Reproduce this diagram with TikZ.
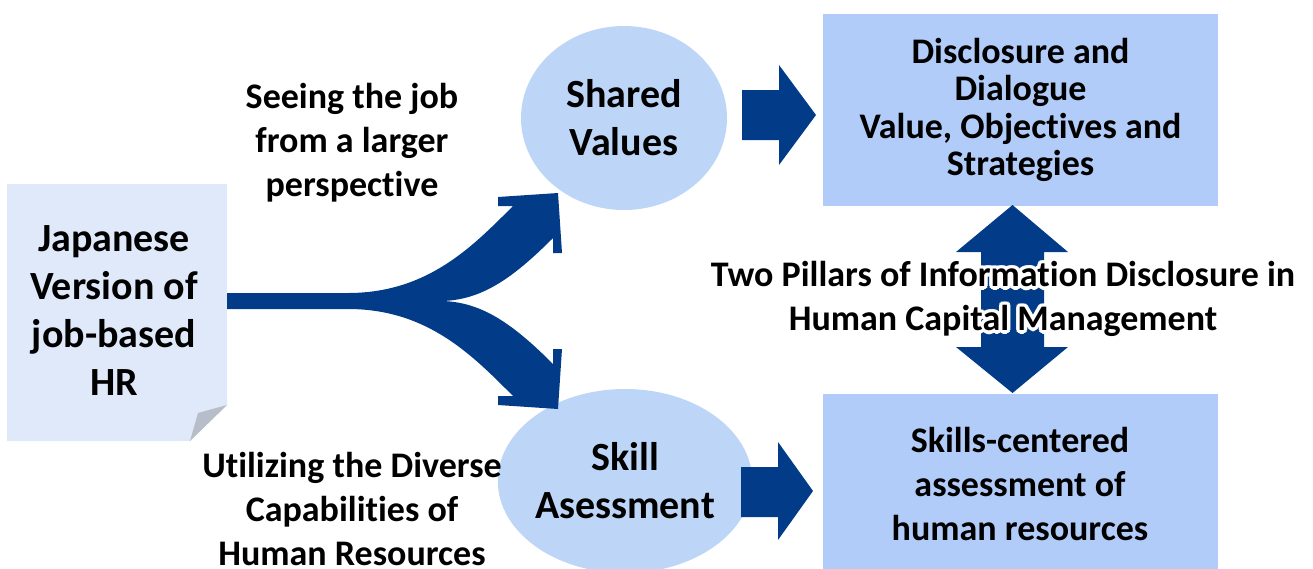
\documentclass[tikz,border=0pt]{standalone}
\usepackage{fontspec}
\setmainfont{Carlito}[Ligatures=NoCommon]
\usetikzlibrary{shapes.geometric,calc}
\definecolor{navy}{HTML}{023C88}
\definecolor{circfill}{HTML}{BDD5F7}
\definecolor{boxfill}{HTML}{B1CCF8}
\definecolor{notefill}{HTML}{DFE9FA}
\definecolor{foldfill}{HTML}{B8BEC9}
\tikzset{
  txt/.style={inner sep=0pt, align=center, font=\bfseries\fontsize{36}{44}\selectfont},
  bigtxt/.style={inner sep=0pt, align=center, font=\bfseries\fontsize{40}{48}\selectfont},
  bubble/.style={ellipse, fill=circfill, draw=none, minimum width=206pt, minimum height=184pt, inner sep=0pt, align=center, font=\bfseries\fontsize{40}{48}\selectfont},
  panel/.style={rectangle, fill=boxfill, draw=none, minimum width=395pt, inner sep=0pt, align=center, font=\bfseries\fontsize{36}{44}\selectfont},
  blockarrow/.style={fill=navy, draw=none}
}
\begin{document}
\begin{tikzpicture}[x=1pt,y=-1pt]
\useasboundingbox (0,0) rectangle (1313,568);
\clip (0,0) rectangle (1313,568);

% left note
\fill[notefill] (7,184) -- (227,184) -- (227,405) -- (190,441) -- (7,441) -- cycle;
\fill[foldfill] (227,405) -- (190,441) -- (198,413) -- cycle;
\node[bigtxt] (note) at (114,311) {Japanese\\Version of\\job-based\\HR};

% circles
\node[bubble] (shared) at (624,118) {Shared\\Values};
\node[bubble] (skill) at (625,481) {Skill\\Asessment};

% boxes
\node[panel, minimum height=192pt, font=\bfseries\fontsize{36}{37.5}\selectfont] (disc) at (1020.5,110) {Disclosure and\\Dialogue\\Value, Objectives and\\Strategies};
\node[panel, minimum height=181pt] (skillbox) at (1020.5,484.5) {};
\node[txt] (skilltext) at (1020,484) {Skills-centered\\assessment of\\human resources};

% fork arrow
\fill[blockarrow] (227,293) -- (348,293)
  .. controls (428,293) and (473,246) .. (513,206)
  -- (498,206) -- (498,197) -- (558,193) -- (562,253) -- (553,253) -- (553,238)
  .. controls (513,278) and (482,300) .. (442,301)
  .. controls (482,302) and (513,324) .. (553,364)
  -- (553,349) -- (562,349) -- (558,409) -- (498,405) -- (498,396) -- (513,396)
  .. controls (473,356) and (428,309) .. (348,309)
  -- (227,309) -- cycle;

% right arrows
\fill[blockarrow] (742,90) -- (779,90) -- (779,65) -- (816,115) -- (779,165) -- (779,140) -- (742,140) -- cycle;
\fill[blockarrow] (741,467) -- (778,467) -- (778,442) -- (813,491) -- (778,540) -- (778,517) -- (741,517) -- cycle;

% double arrow
\fill[blockarrow] (1012.5,205) -- (1068,252) -- (1044,252) -- (1044,347) -- (1068,347) -- (1012.5,393) -- (956,347) -- (981,347) -- (981,252) -- (956,252) -- cycle;

% labels
\node[txt] (seeing) at (352,143) {Seeing the job\\from a larger\\perspective};
\node[txt] (utilizing) at (352,509) {Utilizing the Diverse\\Capabilities of\\Human Resources};

% white halo for pillars text
\foreach \a in {0,30,...,330} {
  \node[txt, text=white] (haloa\a) at ($(1003,299)+(\a:3.5)$) {Two Pillars of Information Disclosure in\\Human Capital Management};
  \node[txt, text=white] (halob\a) at ($(1003,299)+(\a+15:1.8)$) {Two Pillars of Information Disclosure in\\Human Capital Management};
}
\node[txt] (pillars) at (1003,299) {Two Pillars of Information Disclosure in\\Human Capital Management};
\end{tikzpicture}
\end{document}
